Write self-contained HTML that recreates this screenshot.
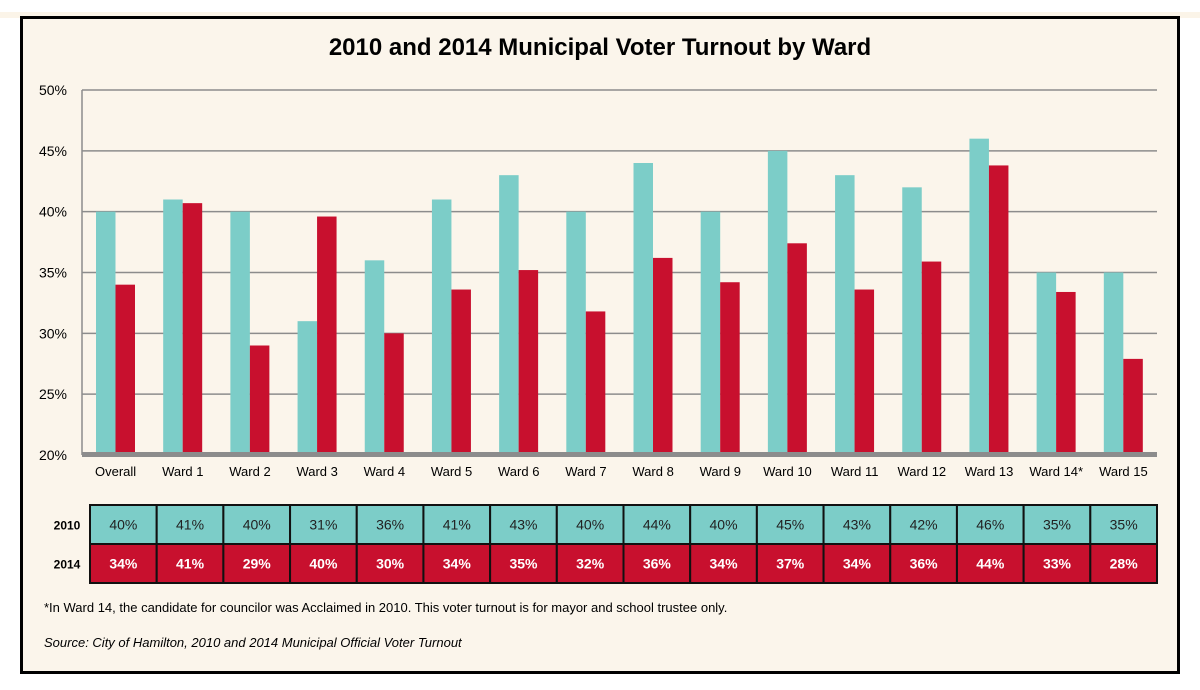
<!DOCTYPE html>
<html><head><meta charset="utf-8"><style>
body{margin:0;width:1200px;height:690px;background:#fff;font-family:"Liberation Sans",Arial,sans-serif;overflow:hidden;position:relative}
</style></head><body>
<div style="position:absolute;left:0;top:12px;width:1200px;height:6px;background:#fbf4e8"></div>
<div style="position:absolute;left:20px;top:16px;width:1154px;height:652px;border:3px solid #000;background:#fbf5eb"></div>
<svg id="c" width="1200" height="690" style="position:absolute;left:0;top:0" font-family="Liberation Sans, Arial, sans-serif">
<text x="600" y="55" text-anchor="middle" font-size="24" font-weight="bold">2010 and 2014 Municipal Voter Turnout by Ward</text>
<text x="44" y="612" font-size="13">*In Ward 14, the candidate for councilor was Acclaimed in 2010.  This voter turnout is for mayor and school trustee only.</text>
<text x="44" y="647" font-size="13" font-style="italic">Source: City of Hamilton, 2010 and 2014 Municipal Official Voter Turnout</text>
</svg>
<script>
const categories=["Overall","Ward 1","Ward 2","Ward 3","Ward 4","Ward 5","Ward 6","Ward 7","Ward 8","Ward 9","Ward 10","Ward 11","Ward 12","Ward 13","Ward 14*","Ward 15"];
const values2010=[40,41,40,31,36,41,43,40,44,40,45,43,42,46,35,35];
const values2014=[34.0,40.7,29.0,39.6,30.0,33.6,35.2,31.8,36.2,34.2,37.4,33.6,35.9,43.8,33.4,27.9];
const labels2010=["40%","41%","40%","31%","36%","41%","43%","40%","44%","40%","45%","43%","42%","46%","35%","35%"];
const labels2014=["34%","41%","29%","40%","30%","34%","35%","32%","36%","34%","37%","34%","36%","44%","33%","28%"];
const yTicks=[20,25,30,35,40,45,50];
const svg=document.getElementById('c');const NS='http://www.w3.org/2000/svg';
const L=82,R=1157,T=90,B=455,ymin=20,ymax=50;
const y=v=>T+(ymax-v)/(ymax-ymin)*(B-T);
const gw=(R-L)/categories.length;
const x=i=>L+i*gw;
function mk(t,a,txt){const e=document.createElementNS(NS,t);for(const k in a)e.setAttribute(k,a[k]);if(txt!=null)e.textContent=txt;svg.appendChild(e);return e;}
yTicks.forEach(t=>{
 if(t>ymin){const g=mk('line',{x1:L,x2:R,y1:y(t),y2:y(t),stroke:'#8c8c8c','stroke-width':1.5});
 
 }
 const l=mk('text',{x:67,y:y(t)+5,'text-anchor':'end','font-size':14},t+'%');
 
 
});
const ax=mk('line',{x1:L,x2:L,y1:T,y2:B,stroke:'#8c8c8c','stroke-width':1.5});


categories.forEach((c,i)=>{
 const bw=19.5,x0=x(i)+14;
 const b1=mk('rect',{x:x0,y:y(values2010[i]),width:bw,height:B-y(values2010[i]),fill:'#7ccdc8'});
 
 
 const b2=mk('rect',{x:x0+bw,y:y(values2014[i]),width:bw,height:B-y(values2014[i]),fill:'#c8102e'});
 
 
 const t=mk('text',{x:x(i)+gw/2,y:476,'text-anchor':'middle','font-size':13},c);
 
 
});
const base=mk('rect',{x:L,y:B-3,width:R-L,height:5,fill:'#8c8c8c'});


// table
const TL=90,TR=1157,cw=(TR-TL)/categories.length,r1=505,rh=39;
[['2010',labels2010,'#7ccdc8','#222','normal'],['2014',labels2014,'#c8102e','#fff','bold']].forEach((r,ri)=>{
 const yy=r1+ri*rh;
 const h=mk('text',{x:67,y:yy+rh/2+5,'text-anchor':'middle','font-size':12,'font-weight':'bold'},r[0]);
 
 
 r[1].forEach((v,i)=>{
  const c=mk('rect',{x:TL+i*cw,y:yy,width:cw,height:rh,fill:r[2],stroke:'#111','stroke-width':2});
  
  
  const t=mk('text',{x:TL+i*cw+cw/2,y:yy+rh/2+5,'text-anchor':'middle','font-size':14,fill:r[3],'font-weight':r[4]},v);
  
  
 });
});
</script>
</body></html>
